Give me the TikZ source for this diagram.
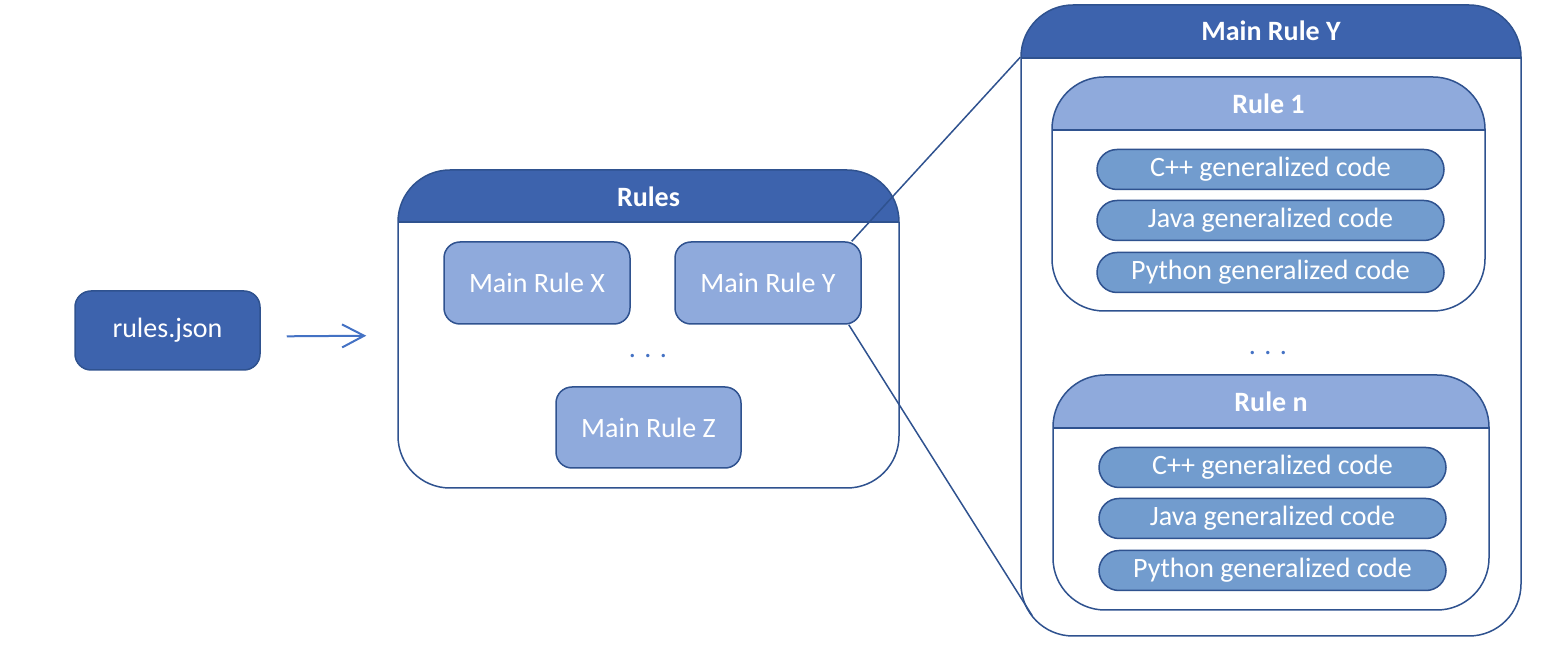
\documentclass[tikz,border=0pt]{standalone}
\usepackage{fontspec}
\setmainfont{Carlito}
\usetikzlibrary{arrows.meta}

\definecolor{darkblue}{HTML}{3D63AD}
\definecolor{edgeblue}{HTML}{2F528F}
\definecolor{lightblue}{HTML}{8FAADC}
\definecolor{codeblue}{HTML}{729CCE}
\definecolor{arrowblue}{HTML}{4472C4}

\begin{document}
\begin{tikzpicture}[x=0.5pt, y=-0.5pt,
    font=\fontsize{14}{16}\selectfont,
    box/.style={draw=edgeblue, line width=0.75pt, rounded corners=8pt, fill=lightblue, text=white,
        minimum width=93pt, minimum height=41pt, inner sep=0pt},
    codebox/.style={draw=edgeblue, line width=0.75pt, rounded corners=10pt, fill=codeblue, text=white,
        minimum width=173.5pt, minimum height=20pt, inner sep=0pt},
    frame/.style 2 args={draw=edgeblue, line width=0.75pt, rounded corners=26pt, fill=white, inner sep=0pt,
        path picture={
            \fill[#1, sharp corners] (path picture bounding box.north west) rectangle ([yshift=-#2]path picture bounding box.north east);
            \draw[edgeblue, line width=0.75pt, sharp corners] ([yshift=-#2]path picture bounding box.north west) -- ([yshift=-#2]path picture bounding box.north east);
        }},
    head/.style={text=white, font=\fontsize{14}{16}\selectfont\bfseries},
    dots/.style={text=arrowblue, anchor=base},
    link/.style={draw=edgeblue, line width=0.75pt}
]
    \useasboundingbox (0,0) rectangle (1554,646);

    % input file
    \node[box, fill=darkblue, minimum width=92.5pt, minimum height=39.5pt](json) at (167.5, 330.5){rules.json};

    % rules container
    \node[frame={darkblue}{26pt}, minimum width=250.5pt, minimum height=159pt](rules) at (648.5, 329){};
    \node[head](rulesT) at (648.5, 196.5){Rules};
    \node[box](ruleX) at (537.0, 283.0){Main Rule X};
    \node[box](ruleY) at (768.0, 283.0){Main Rule Y};
    \node[dots](rulesDots) at (648.0, 358.0){. . .};
    \node[box, minimum width=92.5pt, minimum height=40.5pt](ruleZ) at (648.5, 427.5){Main Rule Z};

    \draw[arrowblue, line width=1pt, -{Straight Barb[length=11pt, width=11.5pt]}, shorten <=13pt, shorten >=15.5pt]
        ([yshift=-3pt]json.east) -- ([yshift=-3.25pt]rules.west);

    % zoom on main rule Y
    \node[frame={darkblue}{26.5pt}, minimum width=250pt, minimum height=315.5pt](mainY) at (1271.0, 320.5){};
    \node[head](mainYT) at (1271.0, 31.0){Main Rule Y};

    \node[frame={lightblue}{26.5pt}, minimum width=216.5pt, minimum height=117pt](rule1) at (1268.5, 194.0){};
    \node[head](rule1T) at (1268.5, 103.5){Rule 1};
    \node[codebox](cpp1) at (1270.5, 169.5){C++ generalized code};
    \node[codebox](java1) at (1270.5, 220.5){Java generalized code};
    \node[codebox](python1) at (1270.5, 272.5){Python generalized code};

    \node[dots](mainYDots) at (1268.0, 355.0){. . .};

    \node[frame={lightblue}{26.5pt}, minimum width=218pt, minimum height=117.5pt](rulen) at (1271.0, 492.5){};
    \node[head](rulenT) at (1271.0, 401.5){Rule n};
    \node[codebox](cppn) at (1272.5, 467.5){C++ generalized code};
    \node[codebox](javan) at (1272.5, 518.5){Java generalized code};
    \node[codebox](pythonn) at (1272.5, 570.5){Python generalized code};

    % zoom lines
    \coordinate (zoomEnd) at ([xshift=6pt, yshift=10.5pt]mainY.south west);
    \draw[link] ([xshift=-5pt]ruleY.north east) -- ([yshift=-26.5pt]mainY.north west);
    \draw[link] ([xshift=-6.5pt]ruleY.south east) -- (zoomEnd);
\end{tikzpicture}
\end{document}
